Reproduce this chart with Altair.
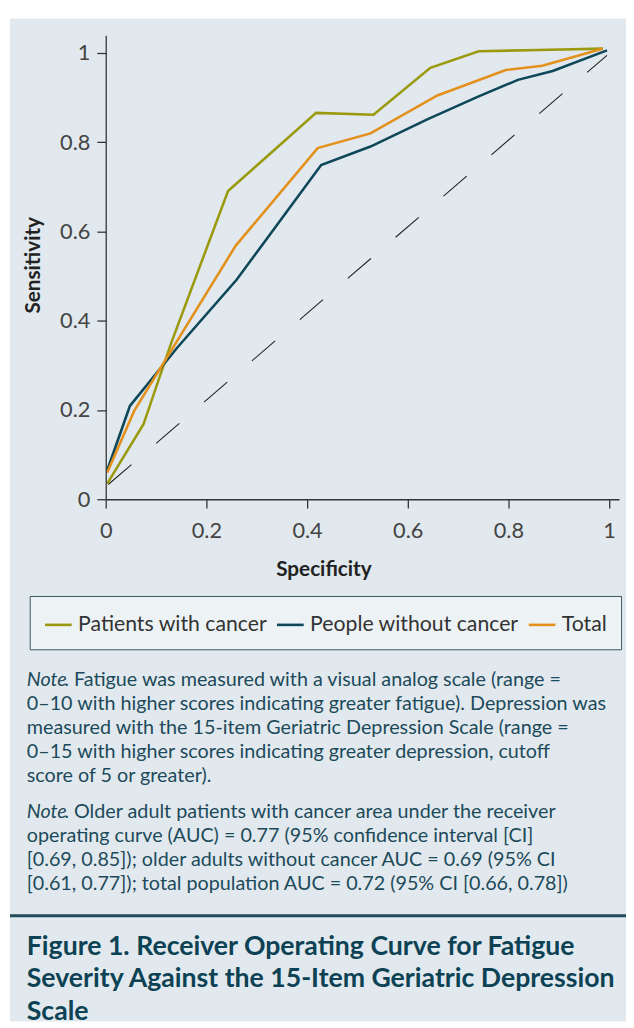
import altair as alt
import pandas as pd

# ---------------- data ----------------
series_names = ["Patients with cancer", "People without cancer", "Total"]
series_colors = ["#9b9a0f", "#0d4759", "#e3911c"]

cancer_spec = [0.003, 0.075, 0.13, 0.243, 0.418, 0.532, 0.645, 0.741, 0.86, 0.988]
cancer_sens = [0.035, 0.168, 0.35, 0.691, 0.866, 0.862, 0.967, 1.004, 1.007, 1.01]

nocancer_spec = [0.003, 0.048, 0.1415, 0.26, 0.428, 0.526, 0.64, 0.741, 0.819, 0.888, 0.996]
nocancer_sens = [0.065, 0.209, 0.339, 0.492, 0.749, 0.7905, 0.852, 0.903, 0.94, 0.96, 1.006]

total_spec = [0.003, 0.0565, 0.258, 0.421, 0.526, 0.659, 0.795, 0.8675, 0.987]
total_sens = [0.06, 0.198, 0.568, 0.787, 0.82, 0.905, 0.962, 0.9715, 1.0095]

ref_spec = [0.005, 0.996]
ref_sens = [0.033, 0.995]

tick_values = [0, 0.2, 0.4, 0.6, 0.8, 1]

x_title = "Specificity"
y_title = "Sensitivity"

note_word = "Note"
note1_lines = [
    ". Fatigue was measured with a visual analog scale (range =",
    "0\u201310 with higher scores indicating greater fatigue). Depression was",
    "measured with the 15-item Geriatric Depression Scale (range =",
    "0\u201315 with higher scores indicating greater depression, cutoff",
    "score of 5 or greater).",
]
note2_lines = [
    ". Older adult patients with cancer area under the receiver",
    "operating curve (AUC) = 0.77 (95% confidence interval [CI]",
    "[0.69, 0.85]); older adults without cancer AUC = 0.69 (95% CI",
    "[0.61, 0.77]); total population AUC = 0.72 (95% CI [0.66, 0.78])",
]
title_lines = [
    "Figure 1. Receiver Operating Curve for Fatigue",
    "Severity Against the 15-Item Geriatric Depression",
    "Scale",
]

# ---------------- tables ----------------
rows = []
for name, xs, ys in [
    (series_names[0], cancer_spec, cancer_sens),
    (series_names[1], nocancer_spec, nocancer_sens),
    (series_names[2], total_spec, total_sens),
]:
    for i, (a, b) in enumerate(zip(xs, ys)):
        rows.append({"series": name, "order": i, "spec": a, "sens": b})
df = pd.DataFrame(rows)
df_ref = pd.DataFrame({"spec": ref_spec, "sens": ref_sens})

# ---------------- layout constants (pixels, relative to plot origin) ----------------
W, H = 520, 470
PAD = {"left": 99, "top": 21, "right": 7, "bottom": 529}
PANEL_BG = "#e1e9ee"
NOTE_COLOR = "#1d4a5a"
TITLE_COLOR = "#0c4254"
FONT = "Lato"
NOTE_SIZE = 20
NOTE_X = -80
NOTE_WORD_W = 38
LINE_DY = 24.4

x_scale = alt.Scale(domain=[0, 1.02], nice=False, zero=False)
y_scale = alt.Scale(domain=[0, 1.04], nice=False, zero=False)

axis_common = dict(
    values=tick_values,
    format="~g",
    title=None,
    grid=False,
    zindex=1,
    domainColor="#333333",
    domainWidth=1.3,
    tickColor="#333333",
    tickWidth=1.3,
    tickSize=9,
    labelFont=FONT,
    labelFontSize=22,
    labelColor="#444444",
    labelFlush=False,
    labelOverlap=False,
)

one = pd.DataFrame({"a": [0]})

panel = alt.Chart(one).mark_rect(color=PANEL_BG).encode(
    x=alt.value(-97), x2=alt.value(527), y=alt.value(-17), y2=alt.value(999)
)

diag = alt.Chart(df_ref).mark_line(
    color="#222222", strokeWidth=1.1, strokeDash=[31, 33]
).encode(
    x=alt.X("spec:Q", scale=x_scale, axis=alt.Axis(labelPadding=13, **axis_common)),
    y=alt.Y("sens:Q", scale=y_scale, axis=alt.Axis(labelPadding=7, **axis_common)),
)

lines = alt.Chart(df).mark_line(strokeWidth=2.6).encode(
    x=alt.X("spec:Q", scale=x_scale),
    y=alt.Y("sens:Q", scale=y_scale),
    color=alt.Color(
        "series:N",
        scale=alt.Scale(domain=series_names, range=series_colors),
        legend=alt.Legend(
            title=None,
            orient="none",
            legendX=-77,
            legendY=568,
            direction="horizontal",
            symbolType="stroke",
            symbolSize=729,
            symbolStrokeWidth=2.6,
            labelFont=FONT,
            labelFontSize=21.5,
            labelColor="#333333",
            labelOffset=5,
            columnPadding=4,
            padding=14,
            fillColor="#edf2f5",
            strokeColor="#3b5560",
            labelLimit=400,
            zindex=2,
        ),
    ),
    order="order:Q",
)


def text_mark(text, x, y, size, color, weight="normal", style="normal", align="left", angle=0):
    return alt.Chart(one).mark_text(
        align=align, baseline="middle", font=FONT, fontSize=size,
        color=color, fontWeight=weight, fontStyle=style, angle=angle,
    ).encode(x=alt.value(x), y=alt.value(y), text=alt.value(text))


text_layers = [
    text_mark(x_title, 221, 542, 21, "#222222", weight="bold", align="center"),
    text_mark(y_title, -73, 233, 21, "#222222", weight="bold", align="center", angle=270),
]


def paragraph(lines_, y0):
    out = [text_mark(note_word, NOTE_X, y0, NOTE_SIZE, NOTE_COLOR, style="italic")]
    for i, t in enumerate(lines_):
        x = NOTE_X + NOTE_WORD_W if i == 0 else NOTE_X
        out.append(text_mark(t, x, y0 + i * LINE_DY, NOTE_SIZE, NOTE_COLOR))
    return out


text_layers += paragraph(note1_lines, 653)
text_layers += paragraph(note2_lines, 787)
for i, t in enumerate(title_lines):
    text_layers.append(text_mark(t, NOTE_X, 924 + i * 32.5, 27, TITLE_COLOR, weight="bold"))

separator = alt.Chart(one).mark_rule(color="#1f4a5a", strokeWidth=3).encode(
    x=alt.value(-97), x2=alt.value(527), y=alt.value(892)
)

chart = alt.layer(
    panel, diag, lines, separator, *text_layers,
).properties(
    width=W, height=H, padding=PAD,
    autosize=alt.AutoSizeParams(type="none"),
    background="white",
).configure_view(stroke=None)

chart.save("out.html", embed_options={"renderer": "svg", "actions": False})
